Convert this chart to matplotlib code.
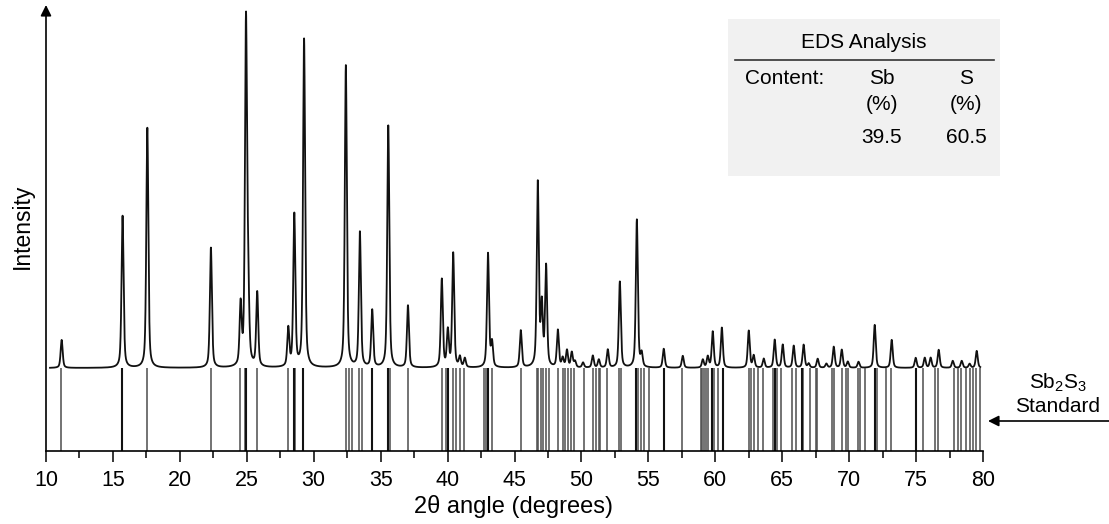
import numpy as np
import matplotlib
matplotlib.use("Agg")
import matplotlib.pyplot as plt
from matplotlib.patches import Rectangle

plt.rcParams['font.family'] = ['Liberation Sans', 'DejaVu Sans']
plt.rcParams['mathtext.fontset'] = 'custom'
plt.rcParams['mathtext.rm'] = 'Liberation Sans'
plt.rcParams['mathtext.it'] = 'Liberation Sans:italic'

# ---- data: measured XRD pattern (peak positions in 2theta, intensities a.u.) ----
peak_pos = [11.17, 15.72, 17.57, 22.32, 24.54, 24.94, 25.10, 25.78, 28.10, 28.55,
            29.28, 32.40, 33.45, 34.37, 35.57, 37.04, 39.57, 40.02, 40.42, 40.92,
            41.29, 43.02, 43.32, 45.47, 46.74, 47.04, 47.36, 48.24, 48.60, 48.92,
            49.28, 49.52, 50.12, 50.85, 51.30, 51.97, 52.87, 54.14, 54.50, 56.15,
            57.57, 59.07, 59.44, 59.81, 60.49, 62.50, 62.87, 63.62, 64.44, 65.04,
            65.86, 66.60, 66.98, 67.65, 68.30, 68.85, 69.45, 69.90, 70.70, 71.91,
            73.18, 74.97, 75.65, 76.09, 76.69, 77.74, 78.41, 79.00, 79.53]
peak_int = [28, 152, 240, 120, 60, 342, 70, 74, 38, 152,
            328, 302, 135, 57, 242, 62, 88, 36, 114, 10,
            9, 114, 24, 37, 184, 60, 100, 37, 9, 17,
            15, 6, 5, 12, 8, 18, 86, 148, 13, 19,
            12, 8, 11, 36, 40, 37, 12, 9, 28, 23,
            22, 23, 4, 9, 4, 21, 18, 6, 6, 43,
            28, 10, 10, 10, 18, 7, 7, 4, 17]

# ---- data: Sb2S3 standard reference lines (2theta) ----
std_pos = [11.10, 15.68, 17.55, 22.30, 24.50, 24.83, 24.95, 25.75, 28.08, 28.50,
           28.63, 29.20, 32.43, 32.63, 32.83, 33.38, 33.58, 34.33, 35.55, 35.68,
           37.08, 39.58, 39.90, 40.03, 40.40, 40.65, 40.90, 41.25, 42.75, 42.90,
           43.00, 43.30, 45.45, 46.65, 46.78, 46.95, 47.15, 47.33, 47.55, 48.25,
           48.60, 48.75, 49.00, 49.20, 49.45, 50.20, 50.90, 51.10, 51.28, 51.40,
           51.90, 52.83, 52.95, 54.08, 54.20, 54.45, 54.65, 55.03, 56.15, 57.50,
           58.90, 59.00, 59.15, 59.33, 59.45, 59.78, 59.90, 60.20, 60.58, 62.50,
           62.65, 62.88, 63.20, 63.53, 64.33, 64.45, 64.58, 64.88, 65.75, 66.00,
           66.45, 66.58, 67.05, 67.50, 67.63, 68.75, 68.88, 69.45, 69.75, 69.95,
           70.63, 70.80, 71.20, 71.95, 72.08, 72.75, 73.13, 75.00, 75.50, 76.45,
           76.63, 77.83, 78.13, 78.33, 78.75, 79.00, 79.25, 79.50, 79.75]
std_strong = [15.68, 24.95, 28.50, 29.20, 34.33, 35.55, 40.03, 43.00, 54.08,
              56.15, 59.78, 60.58, 64.45, 66.45, 71.95, 75.00]

x_ticks = [10, 15, 20, 25, 30, 35, 40, 45, 50, 55, 60, 65, 70, 75, 80]
eds_elements = ['Sb', 'S']
eds_values = [39.5, 60.5]

# ---- profile built from the read peak list ----
two_theta = np.arange(10.3, 79.8, 0.005)
fwhm = 0.18
eta = 0.5
pattern = np.zeros_like(two_theta)
for p, h in zip(peak_pos, peak_int):
    d = two_theta - p
    lor = 1.0 / (1.0 + (2 * d / fwhm) ** 2)
    gau = np.exp(-4 * np.log(2) * (d / fwhm) ** 2)
    pattern += h * (eta * lor + (1 - eta) * gau)

W, H = 1109, 524
fig = plt.figure(figsize=(W / 100, H / 100), dpi=100)
ax = fig.add_axes([46 / W, 73 / H, 937 / W, 446 / H])

base = 83
ax.plot(two_theta, base + pattern, color='#111111', lw=1.3)
ax.vlines([p for p in std_pos if p not in std_strong], 0, base, color='#4d4d4d', lw=1.1)
ax.vlines(std_strong, 0, base, color='#111111', lw=1.5)

ax.set_xlim(10, 80)
ax.set_ylim(0, 446)
ax.set_xticks(x_ticks)
ax.set_xticks(np.arange(12.5, 80, 5), minor=True)
ax.tick_params(axis='x', which='major', direction='out', length=8, width=1.1,
               labelsize=15.5, pad=6)
ax.tick_params(axis='x', which='minor', direction='out', length=5, width=1.1)
ax.set_yticks([])
for s in ['top', 'right', 'left']:
    ax.spines[s].set_visible(False)
ax.spines['bottom'].set_linewidth(1.2)

ax.annotate('', xy=(0, 1.0), xytext=(0, 0), xycoords='axes fraction',
            arrowprops=dict(arrowstyle='-|>', lw=1.2, color='black',
                            mutation_scale=16, shrinkA=0, shrinkB=0))

ax.set_xlabel('2\u03b8 angle (degrees)', fontsize=17)
ax.xaxis.set_label_coords((514 - 46) / 937, (451 - 507) / 446)
ax.xaxis.label.set_va('center')
ax.set_ylabel('Intensity', fontsize=16.5)
ax.yaxis.set_label_coords((22 - 46) / 937, (451 - 226) / 446)
ax.yaxis.label.set_va('center')


def fp(x, y):
    return x / W, 1 - y / H


# EDS box
fig.patches.append(Rectangle(fp(728, 176), 272 / W, 157 / H, transform=fig.transFigure,
                             facecolor='#f1f1f1', edgecolor='none', zorder=0))
fig.add_artist(plt.Line2D([735 / W, 994 / W], [1 - 60 / H, 1 - 60 / H],
                          transform=fig.transFigure, color='#333333', lw=1.2))
fig.text(*fp(864, 43), 'EDS Analysis', fontsize=15, ha='center', va='center')
fig.text(*fp(745, 78), 'Content:', fontsize=15, ha='left', va='center')
for cx, el, val in zip([882, 966], eds_elements, eds_values):
    fig.text(*fp(cx, 78), el, fontsize=15, ha='center', va='center')
    fig.text(*fp(cx, 105), '(%)', fontsize=15, ha='center', va='center')
    fig.text(*fp(cx, 138), f'{val:.1f}', fontsize=15, ha='center', va='center')

# Standard annotation
fig.text(*fp(1058, 383), r'Sb$_\mathregular{2}$S$_\mathregular{3}$', fontsize=15,
         ha='center', va='center')
fig.text(*fp(1058, 406), 'Standard', fontsize=15, ha='center', va='center')
ax.annotate('', xy=fp(988, 421), xytext=fp(1109, 421), xycoords='figure fraction',
            textcoords='figure fraction', annotation_clip=False,
            arrowprops=dict(arrowstyle='-|>', lw=1.2, color='black',
                            mutation_scale=16, shrinkA=0, shrinkB=0))

fig.savefig('out.png', dpi=100)
